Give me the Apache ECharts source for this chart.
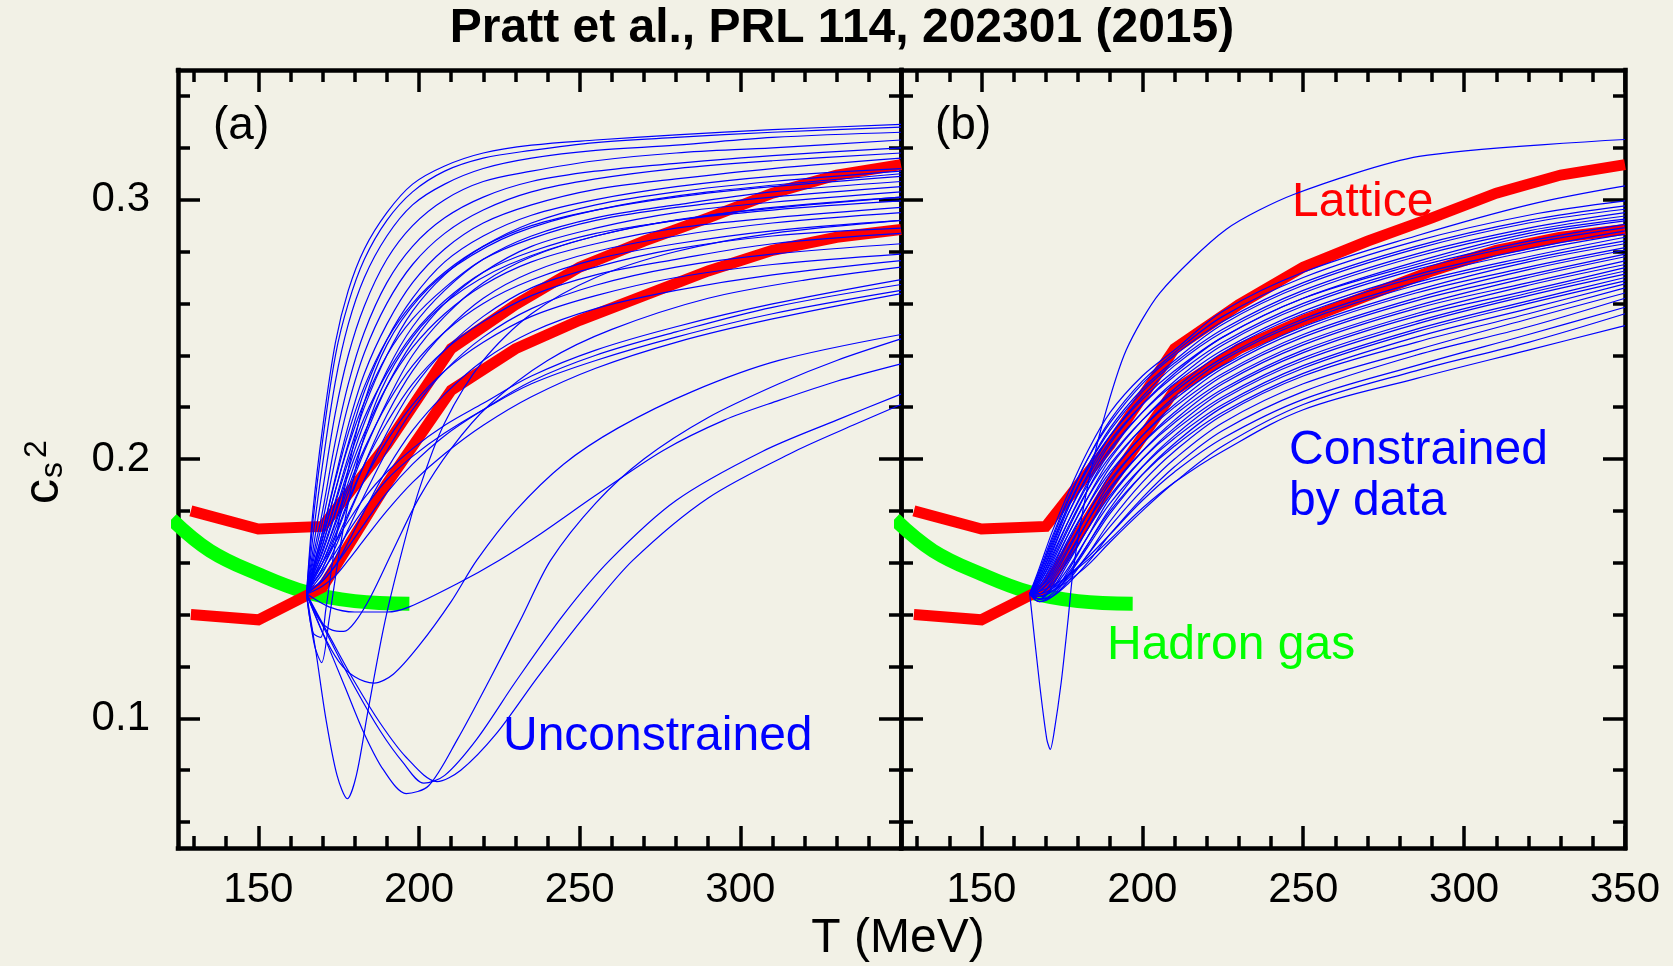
<!DOCTYPE html>
<html>
<head>
<meta charset="utf-8">
<title>Pratt et al., PRL 114, 202301 (2015)</title>
<script src="https://cdn.jsdelivr.net/npm/echarts@6/dist/echarts.min.js"></script>
<style>
  html, body { margin: 0; padding: 0; background: #f2f1e6; }
  #chart { width: 1673px; height: 966px; }
</style>
</head>
<body>
<div id="chart"></div>
<script>
// ---- data (T in MeV, value = c_s^2) ----
// lattice band, two edges
const latticeT = [129, 150, 170, 190, 210, 230, 250, 270, 290, 310, 330, 350]
const latticeHi = [0.180, 0.173, 0.174, 0.2055, 0.2425, 0.2595, 0.274, 0.284, 0.293, 0.3025, 0.3095, 0.3135]
const latticeLo = [0.140, 0.138, 0.1505, 0.1905, 0.2265, 0.2425, 0.2535, 0.263, 0.2725, 0.2805, 0.2855, 0.2885]

// hadron resonance gas
const hadronT = [123, 135, 150, 165, 180, 197]
const hadronGas = [0.1768, 0.1646, 0.1556, 0.1486, 0.1452, 0.1442]

// (a) unconstrained: rising curves on a shared T grid
const tGridA = [165, 167, 170, 174, 178, 183, 190, 198, 208, 220, 235, 255, 280, 310, 350]
const priorRising = [
  [0.148, 0.180, 0.212, 0.245, 0.265, 0.281, 0.295, 0.306, 0.313, 0.318, 0.321, 0.323, 0.325, 0.327, 0.329],
  [0.148, 0.176, 0.207, 0.240, 0.260, 0.277, 0.292, 0.303, 0.311, 0.316, 0.319, 0.322, 0.324, 0.326, 0.328],
  [0.148, 0.170, 0.198, 0.230, 0.252, 0.270, 0.286, 0.298, 0.306, 0.312, 0.316, 0.319, 0.321, 0.324, 0.326],
  [0.148, 0.165, 0.188, 0.218, 0.240, 0.259, 0.277, 0.290, 0.300, 0.307, 0.311, 0.315, 0.318, 0.320, 0.323],
  [0.148, 0.162, 0.180, 0.207, 0.229, 0.249, 0.268, 0.282, 0.293, 0.301, 0.307, 0.311, 0.314, 0.317, 0.320],
  [0.148, 0.160, 0.176, 0.200, 0.221, 0.241, 0.260, 0.275, 0.287, 0.296, 0.303, 0.308, 0.312, 0.315, 0.318],
  [0.148, 0.158, 0.172, 0.193, 0.213, 0.233, 0.252, 0.268, 0.281, 0.291, 0.298, 0.304, 0.308, 0.312, 0.316],
  [0.148, 0.157, 0.169, 0.188, 0.206, 0.226, 0.246, 0.262, 0.276, 0.286, 0.294, 0.300, 0.305, 0.309, 0.312],
  [0.148, 0.156, 0.167, 0.184, 0.201, 0.220, 0.240, 0.257, 0.271, 0.282, 0.291, 0.298, 0.303, 0.307, 0.311],
  [0.148, 0.158, 0.172, 0.192, 0.210, 0.228, 0.246, 0.260, 0.272, 0.282, 0.290, 0.296, 0.301, 0.305, 0.309],
  [0.148, 0.155, 0.165, 0.180, 0.196, 0.214, 0.234, 0.251, 0.265, 0.277, 0.286, 0.293, 0.298, 0.303, 0.307],
  [0.148, 0.157, 0.170, 0.188, 0.205, 0.222, 0.240, 0.254, 0.266, 0.277, 0.285, 0.292, 0.297, 0.301, 0.305],
  [0.148, 0.154, 0.162, 0.176, 0.191, 0.208, 0.228, 0.245, 0.260, 0.272, 0.282, 0.289, 0.295, 0.299, 0.303],
  [0.148, 0.156, 0.167, 0.183, 0.199, 0.216, 0.233, 0.248, 0.261, 0.272, 0.280, 0.287, 0.292, 0.297, 0.301],
  [0.148, 0.153, 0.160, 0.173, 0.187, 0.203, 0.222, 0.240, 0.255, 0.268, 0.278, 0.286, 0.292, 0.296, 0.2995],
  [0.148, 0.155, 0.164, 0.179, 0.194, 0.210, 0.228, 0.243, 0.256, 0.267, 0.276, 0.283, 0.289, 0.293, 0.297],
  [0.148, 0.152, 0.158, 0.170, 0.183, 0.198, 0.217, 0.234, 0.249, 0.262, 0.272, 0.280, 0.286, 0.291, 0.295],
  [0.148, 0.154, 0.162, 0.175, 0.189, 0.204, 0.221, 0.236, 0.249, 0.260, 0.269, 0.277, 0.283, 0.288, 0.292],
  [0.148, 0.151, 0.156, 0.166, 0.178, 0.192, 0.210, 0.227, 0.242, 0.255, 0.266, 0.274, 0.281, 0.286, 0.289],
  [0.148, 0.153, 0.160, 0.171, 0.184, 0.198, 0.214, 0.229, 0.242, 0.253, 0.263, 0.271, 0.277, 0.283, 0.287],
  [0.148, 0.150, 0.154, 0.162, 0.173, 0.186, 0.203, 0.219, 0.234, 0.247, 0.258, 0.267, 0.274, 0.279, 0.283],
  [0.148, 0.152, 0.158, 0.168, 0.179, 0.192, 0.207, 0.221, 0.234, 0.245, 0.255, 0.263, 0.270, 0.275, 0.279],
  [0.148, 0.150, 0.153, 0.159, 0.168, 0.180, 0.196, 0.211, 0.225, 0.238, 0.249, 0.258, 0.265, 0.271, 0.2765],
  [0.148, 0.154, 0.160, 0.168, 0.176, 0.185, 0.195, 0.204, 0.213, 0.2215, 0.232, 0.242, 0.251, 0.2598, 0.2692],
  [0.148, 0.150, 0.153, 0.159, 0.166, 0.175, 0.187, 0.198, 0.209, 0.219, 0.230, 0.240, 0.249, 0.2585, 0.2673],
  [0.148, 0.152, 0.157, 0.164, 0.172, 0.181, 0.192, 0.201, 0.210, 0.219, 0.229, 0.238, 0.247, 0.256, 0.265],
  [0.148, 0.149, 0.151, 0.155, 0.161, 0.169, 0.180, 0.191, 0.202, 0.213, 0.224, 0.235, 0.245, 0.254, 0.2638]
]
// (a) curves that dip below the hadron gas first, as [T, value]
const priorDips = [
  [[165, 0.148], [168, 0.125], [171, 0.100], [174.5, 0.078], [177.7, 0.069], [180.5, 0.078], [184, 0.102], [189, 0.135], [194, 0.161], [200, 0.188], [208, 0.214], [220, 0.238], [235, 0.256], [255, 0.270], [280, 0.280], [310, 0.287], [350, 0.292]],
  [[165, 0.148], [171, 0.130], [177, 0.112], [183, 0.094], [189, 0.080], [196, 0.071], [203, 0.074], [212, 0.092], [222, 0.115], [232, 0.139], [241, 0.161], [255, 0.183], [270, 0.200], [290, 0.216], [312, 0.229], [330, 0.238], [350, 0.2463]],
  [[165, 0.148], [172, 0.131], [180, 0.112], [188, 0.095], [195, 0.083], [201.5, 0.075], [208, 0.078], [218, 0.092], [230, 0.114], [245, 0.140], [259.4, 0.161], [280, 0.184], [307, 0.203], [330, 0.215], [350, 0.225]],
  [[165, 0.148], [172, 0.132], [180, 0.114], [188, 0.098], [196, 0.085], [205.6, 0.0756], [213, 0.080], [224, 0.094], [237, 0.116], [252, 0.140], [266.6, 0.161], [290, 0.185], [317, 0.203], [335, 0.213], [350, 0.221]],
  [[165, 0.148], [170, 0.133], [175, 0.122], [180, 0.116], [186, 0.1136], [192, 0.117], [200, 0.128], [210, 0.145], [218, 0.161], [230, 0.180], [245, 0.198], [262, 0.212], [285, 0.226], [312, 0.238], [350, 0.248]],
  [[165, 0.148], [172, 0.143], [180, 0.141], [190, 0.141], [197, 0.143], [212, 0.152], [225, 0.161], [238, 0.1713], [255, 0.186], [276, 0.2033], [295, 0.215], [312, 0.2226], [330, 0.230], [350, 0.2367]],
  [[165, 0.148], [169, 0.138], [173, 0.134], [176.6, 0.1335], [180, 0.137], [185, 0.147], [192, 0.165], [200, 0.185], [210, 0.204], [222, 0.221], [240, 0.238], [260, 0.250], [290, 0.262], [320, 0.269], [350, 0.274]],
  [[165, 0.148], [167, 0.133], [169.4, 0.1312], [171, 0.142], [174, 0.168], [178, 0.196], [183, 0.222], [190, 0.244], [200, 0.262], [212, 0.275], [230, 0.287], [255, 0.296], [290, 0.303], [350, 0.310]],
  [[165, 0.148], [167.5, 0.128], [169.7, 0.1215], [172, 0.138], [176, 0.170], [181, 0.200], [188, 0.226], [198, 0.247], [210, 0.262], [228, 0.275], [255, 0.286], [290, 0.294], [350, 0.301]]
]

// (b) constrained by data
const tGridB = [165, 168, 172, 177, 183, 190, 200, 210, 225, 250, 285, 320, 350]
const posterior = [
  [0.148, 0.158, 0.172, 0.187, 0.203, 0.218, 0.232, 0.242, 0.257, 0.272, 0.286, 0.298, 0.3053],
  [0.148, 0.156, 0.169, 0.184, 0.200, 0.215, 0.230, 0.241, 0.255, 0.270, 0.284, 0.294, 0.2995],
  [0.148, 0.157, 0.170, 0.185, 0.200, 0.214, 0.229, 0.240, 0.253, 0.268, 0.282, 0.292, 0.2976],
  [0.148, 0.154, 0.166, 0.181, 0.197, 0.212, 0.227, 0.238, 0.252, 0.267, 0.281, 0.291, 0.2963],
  [0.148, 0.155, 0.167, 0.182, 0.197, 0.211, 0.226, 0.237, 0.250, 0.265, 0.279, 0.289, 0.2950],
  [0.148, 0.153, 0.164, 0.179, 0.194, 0.209, 0.224, 0.236, 0.249, 0.264, 0.278, 0.288, 0.2937],
  [0.148, 0.156, 0.168, 0.182, 0.196, 0.209, 0.223, 0.234, 0.247, 0.262, 0.276, 0.287, 0.2925],
  [0.148, 0.152, 0.162, 0.176, 0.191, 0.206, 0.221, 0.233, 0.247, 0.262, 0.275, 0.286, 0.2918],
  [0.148, 0.154, 0.165, 0.179, 0.193, 0.207, 0.221, 0.232, 0.245, 0.260, 0.274, 0.284, 0.2905],
  [0.148, 0.151, 0.160, 0.173, 0.188, 0.203, 0.218, 0.230, 0.244, 0.259, 0.273, 0.283, 0.2892],
  [0.148, 0.153, 0.163, 0.176, 0.190, 0.204, 0.218, 0.229, 0.242, 0.257, 0.271, 0.281, 0.2880],
  [0.148, 0.150, 0.158, 0.171, 0.185, 0.200, 0.215, 0.227, 0.241, 0.256, 0.270, 0.280, 0.2867],
  [0.148, 0.152, 0.161, 0.174, 0.188, 0.201, 0.215, 0.226, 0.239, 0.254, 0.268, 0.278, 0.2855],
  [0.148, 0.150, 0.156, 0.168, 0.182, 0.197, 0.212, 0.224, 0.238, 0.253, 0.267, 0.277, 0.2841],
  [0.148, 0.151, 0.159, 0.171, 0.185, 0.198, 0.212, 0.223, 0.236, 0.251, 0.265, 0.276, 0.2830],
  [0.148, 0.149, 0.154, 0.165, 0.179, 0.194, 0.209, 0.221, 0.235, 0.250, 0.264, 0.274, 0.2815],
  [0.148, 0.150, 0.157, 0.169, 0.182, 0.195, 0.209, 0.220, 0.233, 0.248, 0.262, 0.273, 0.2805],
  [0.148, 0.146, 0.151, 0.162, 0.176, 0.191, 0.206, 0.218, 0.232, 0.247, 0.261, 0.271, 0.2790],
  [0.148, 0.149, 0.155, 0.166, 0.179, 0.192, 0.206, 0.217, 0.230, 0.245, 0.259, 0.270, 0.2780],
  [0.148, 0.146, 0.150, 0.160, 0.173, 0.188, 0.203, 0.215, 0.229, 0.244, 0.258, 0.268, 0.2764],
  [0.148, 0.148, 0.153, 0.163, 0.176, 0.189, 0.203, 0.214, 0.227, 0.242, 0.256, 0.267, 0.2750],
  [0.148, 0.145, 0.148, 0.157, 0.170, 0.185, 0.200, 0.212, 0.226, 0.241, 0.255, 0.265, 0.2738],
  [0.148, 0.148, 0.152, 0.161, 0.173, 0.186, 0.200, 0.211, 0.224, 0.239, 0.253, 0.264, 0.2725],
  [0.148, 0.145, 0.147, 0.155, 0.167, 0.181, 0.197, 0.209, 0.223, 0.238, 0.252, 0.263, 0.2713],
  [0.148, 0.147, 0.150, 0.158, 0.170, 0.183, 0.197, 0.208, 0.221, 0.236, 0.250, 0.261, 0.2700],
  [0.148, 0.146, 0.148, 0.155, 0.166, 0.179, 0.194, 0.206, 0.220, 0.235, 0.249, 0.260, 0.2687],
  [0.148, 0.147, 0.149, 0.156, 0.167, 0.180, 0.194, 0.205, 0.218, 0.233, 0.247, 0.258, 0.2675],
  [0.148, 0.146, 0.147, 0.153, 0.163, 0.176, 0.191, 0.203, 0.217, 0.232, 0.245, 0.256, 0.2660],
  [0.148, 0.147, 0.149, 0.154, 0.163, 0.174, 0.188, 0.200, 0.214, 0.229, 0.242, 0.254, 0.2640],
  [0.148, 0.146, 0.147, 0.152, 0.160, 0.171, 0.185, 0.197, 0.211, 0.226, 0.240, 0.251, 0.2620],
  [0.148, 0.148, 0.150, 0.155, 0.162, 0.171, 0.184, 0.195, 0.208, 0.223, 0.236, 0.248, 0.2585],
  [0.148, 0.147, 0.149, 0.153, 0.159, 0.168, 0.180, 0.191, 0.205, 0.221, 0.234, 0.245, 0.2560],
  [0.148, 0.149, 0.151, 0.155, 0.161, 0.169, 0.181, 0.191, 0.203, 0.219, 0.231, 0.242, 0.2514]
]
const posteriorDip = [[165, 0.148], [168, 0.114], [170.3, 0.092], [171.4, 0.088], [172.5, 0.094], [174.8, 0.114], [177, 0.139], [178.5, 0.157], [182.6, 0.187], [187.7, 0.214], [195, 0.242], [205.4, 0.264], [226, 0.2885], [247, 0.302], [286, 0.3167], [350, 0.3232]]

// ticks
const xMajor = [150, 200, 250, 300, 350]
const xMinor = [130, 140, 160, 170, 180, 190, 210, 220, 230, 240, 260, 270, 280, 290, 310, 320, 330, 340]
const xLabelsA = [150, 200, 250, 300]
const xLabelsB = [150, 200, 250, 300, 350]
const yMajor = [0.1, 0.2, 0.3]
const yMinor = [0.06, 0.08, 0.12, 0.14, 0.16, 0.18, 0.22, 0.24, 0.26, 0.28, 0.32, 0.34]
const yLabels = [0.1, 0.2, 0.3]

// ---- chart ----
const FONT = '"Liberation Sans", Arial, Helvetica, sans-serif'
const chart = echarts.init(document.getElementById('chart'))

function xAxisOf(grid, pos, ticks, len, labels, line) {
  return {
    type: 'value', gridIndex: grid, position: pos, min: 125, max: 350,
    axisLine: { show: line, onZero: false, lineStyle: { color: '#000', width: 4.5, cap: 'square' } },
    axisTick: { show: true, inside: true, length: len, customValues: ticks, lineStyle: { color: '#000', width: 3.5 } },
    axisLabel: labels ? {
      show: true, customValues: labels, margin: 21, fontSize: 42, color: '#000', fontFamily: FONT,
      formatter: v => String(v)
    } : { show: false },
    splitLine: { show: false }
  }
}
function yAxisOf(grid, pos, ticks, len, labels, line) {
  return {
    type: 'value', gridIndex: grid, position: pos, min: 0.05, max: 0.35,
    axisLine: { show: line, onZero: false, lineStyle: { color: '#000', width: 4.5, cap: 'square' } },
    axisTick: { show: true, inside: true, length: len, customValues: ticks, lineStyle: { color: '#000', width: 3.5 } },
    axisLabel: labels ? {
      show: true, customValues: labels, margin: 28, fontSize: 42, color: '#000', fontFamily: FONT,
      formatter: v => v.toFixed(1)
    } : { show: false },
    splitLine: { show: false }
  }
}

const xAxes = [
  xAxisOf(0, 'bottom', xMajor, 22, xLabelsA, true),
  xAxisOf(1, 'bottom', xMajor, 22, xLabelsB, true),
  xAxisOf(0, 'top', xMajor, 22, null, true),
  xAxisOf(1, 'top', xMajor, 22, null, true),
  xAxisOf(0, 'bottom', xMinor, 12, null, false),
  xAxisOf(1, 'bottom', xMinor, 12, null, false),
  xAxisOf(0, 'top', xMinor, 12, null, false),
  xAxisOf(1, 'top', xMinor, 12, null, false)
]
const yAxes = [
  yAxisOf(0, 'left', yMajor, 22, yLabels, true),
  yAxisOf(1, 'left', yMajor, 22, null, true),
  yAxisOf(0, 'right', yMajor, 22, null, true),
  yAxisOf(1, 'right', yMajor, 22, null, true),
  yAxisOf(0, 'left', yMinor, 12, null, false),
  yAxisOf(1, 'left', yMinor, 12, null, false),
  yAxisOf(0, 'right', yMinor, 12, null, false),
  yAxisOf(1, 'right', yMinor, 12, null, false)
]

function zip(ts, vs) {
  return ts.map((t, i) => [t, vs[i]])
}
function lineSeries(panel, data, color, width, smooth, extra) {
  return Object.assign({
    type: 'line', xAxisIndex: panel, yAxisIndex: panel, data: data,
    showSymbol: false, symbol: 'none', smooth: smooth, silent: true,
    lineStyle: { color: color, width: width, join: 'miter' }
  }, extra || {})
}

const series = []
;[0, 1].forEach(p => {
  series.push(lineSeries(p, zip(hadronT, hadronGas), '#00ff00', 14, 0.4, { clip: false }))
  series.push(lineSeries(p, zip(latticeT, latticeHi), '#ff0000', 11, false))
  series.push(lineSeries(p, zip(latticeT, latticeLo), '#ff0000', 11, false))
})
priorRising.forEach(vs => series.push(lineSeries(0, zip(tGridA, vs), '#0000ff', 1.2, 0.35)))
priorDips.forEach(d => series.push(lineSeries(0, d, '#0000ff', 1.2, 0.3)))
posterior.forEach(vs => series.push(lineSeries(1, zip(tGridB, vs), '#0000ff', 1.2, 0.35)))
series.push(lineSeries(1, posteriorDip, '#0000ff', 1.2, 0.25))

function label(x, y, text, size, color, align) {
  return {
    type: 'text', x: x, y: y, silent: true,
    style: {
      text: text, fill: color, font: size + 'px ' + FONT,
      textAlign: align || 'left', textVerticalAlign: 'middle'
    }
  }
}

const option = {
  backgroundColor: '#f2f1e6',
  animation: false,
  textStyle: { fontFamily: FONT },
  grid: [
    { left: 178, top: 70, width: 723, height: 778 },
    { left: 901, top: 70, width: 724, height: 778 }
  ],
  xAxis: xAxes,
  yAxis: yAxes,
  series: series,
  graphic: [
    {
      type: 'text', x: 842, y: 29, silent: true,
      style: {
        text: 'Pratt et al., PRL 114, 202301 (2015)', fill: '#000',
        font: 'bold 48px ' + FONT,
        textAlign: 'center', textVerticalAlign: 'middle'
      }
    },
    label(898, 939, 'T (MeV)', 48, '#000', 'center'),
    label(213, 126, '(a)', 46, '#000'),
    label(935, 126, '(b)', 46, '#000'),
    label(503, 737, 'Unconstrained', 48, '#0000ff'),
    label(1292, 203, 'Lattice', 48, '#ff0000'),
    label(1289, 451, 'Constrained', 48, '#0000ff'),
    label(1289, 502, 'by data', 48, '#0000ff'),
    label(1107, 646, 'Hadron gas', 48, '#00ff00'),
    {
      // c_s^2, reading upwards
      type: 'group', x: 61, y: 504, rotation: Math.PI / 2, silent: true,
      children: [
        label(0, -17, 'c', 50, '#000'),
        label(26, 3 - 11, 's', 32, '#000'),
        label(46, -13 - 11, '2', 32, '#000')
      ]
    }
  ]
}
chart.setOption(option)
</script>
</body>
</html>
